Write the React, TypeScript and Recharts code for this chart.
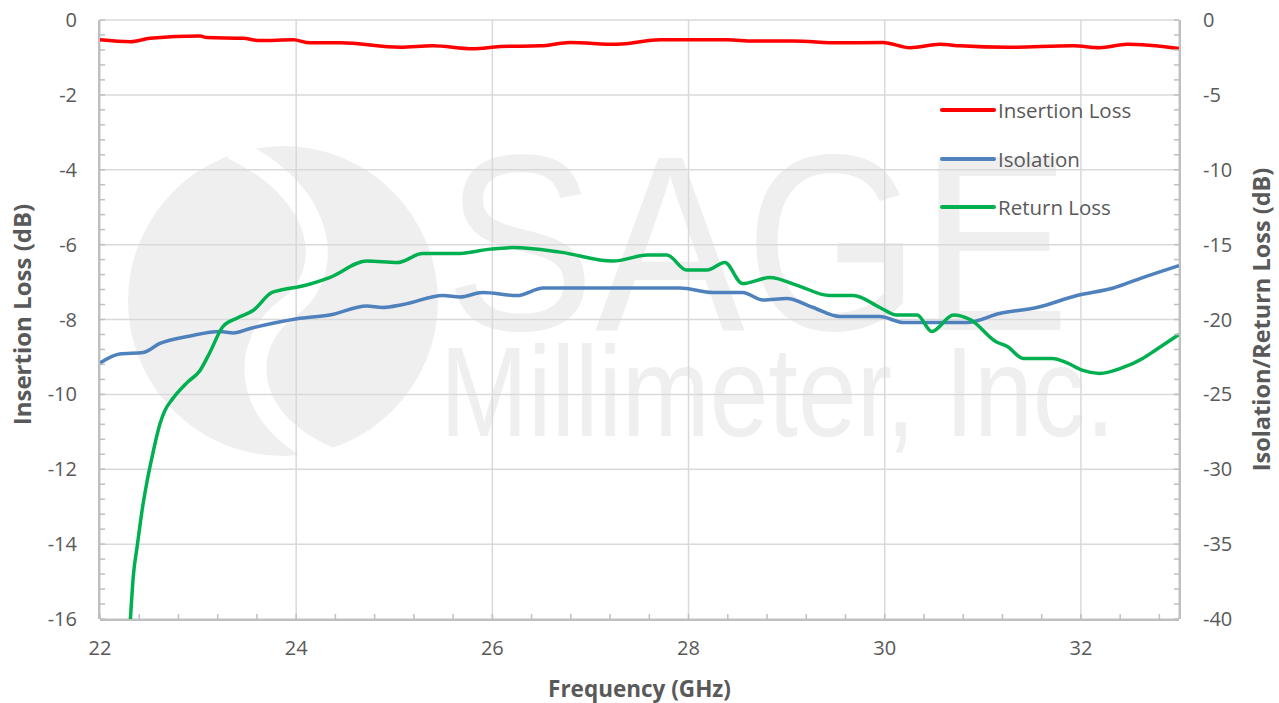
import { LineChart, Line, XAxis, YAxis, CartesianGrid, Legend } from 'recharts'

const FONT = '"Open Sans", sans-serif'
const TEXT = '#595959'
const GRID = '#d9d9d9'
const AXIS = '#bfbfbf'

// x axis labels and y axis ticks
const freqTicks = [22, 24, 26, 28, 30, 32]
const leftTicks = [-16, -14, -12, -10, -8, -6, -4, -2, 0]
const rightTicks = [-40, -35, -30, -25, -20, -15, -10, -5, 0]

// minor tick marks (inside the plot)
const minorX = Array.from({ length: 28 }, (_, i) => +(22 + i * 0.4).toFixed(1))
const minorLeft = Array.from({ length: 41 }, (_, i) => +(-16 + i * 0.4).toFixed(1))
const minorRight = Array.from({ length: 41 }, (_, i) => -40 + i)

// Insertion Loss (left axis, dB)
const ilFreq = [22.0, 22.31, 22.51, 23.02, 23.09, 23.46, 23.63, 23.97, 24.14, 24.45, 25.06, 25.39, 25.8, 26.08, 26.49, 26.79, 27.27, 27.71, 27.98, 28.39, 28.66, 29.06, 29.54, 29.98, 30.26, 30.56, 30.77, 31.25, 31.92, 32.19, 32.47, 33.0]
const ilVal = [-0.53, -0.58, -0.49, -0.43, -0.47, -0.49, -0.55, -0.53, -0.61, -0.61, -0.73, -0.69, -0.77, -0.71, -0.69, -0.6, -0.65, -0.53, -0.53, -0.53, -0.56, -0.56, -0.61, -0.6, -0.74, -0.65, -0.69, -0.73, -0.69, -0.74, -0.65, -0.76]

// Isolation (right axis, dB)
const isoFreq = [22.0, 22.2, 22.44, 22.61, 22.92, 23.22, 23.36, 23.53, 23.8, 24.01, 24.34, 24.72, 24.88, 25.09, 25.5, 25.67, 25.9, 26.25, 26.52, 27.2, 27.91, 28.25, 28.55, 28.76, 29.0, 29.27, 29.54, 29.95, 30.19, 30.84, 31.17, 31.55, 31.96, 32.33, 32.63, 33.0]
const isoVal = [-22.9, -22.3, -22.2, -21.6, -21.1, -20.8, -20.9, -20.6, -20.2, -19.95, -19.7, -19.1, -19.2, -19.0, -18.4, -18.5, -18.2, -18.4, -17.9, -17.9, -17.9, -18.2, -18.2, -18.7, -18.6, -19.2, -19.8, -19.8, -20.2, -20.2, -19.6, -19.2, -18.4, -17.9, -17.2, -16.4]

// Return Loss (right axis, dB)
const rlFreq = [22.31, 22.34, 22.38, 22.43, 22.48, 22.54, 22.61, 22.66, 22.74, 22.89, 23.02, 23.12, 23.25, 23.4, 23.56, 23.75, 23.87, 24.04, 24.34, 24.72, 25.03, 25.29, 25.64, 25.98, 26.21, 26.69, 27.23, 27.58, 27.78, 27.98, 28.19, 28.37, 28.55, 28.83, 29.1, 29.44, 29.68, 29.95, 30.12, 30.33, 30.48, 30.7, 30.87, 31.14, 31.25, 31.41, 31.71, 31.86, 32.02, 32.19, 32.43, 32.63, 32.77, 33.0]
const rlVal = [-40.0, -37.1, -35.1, -32.7, -30.8, -28.9, -27.0, -26.1, -25.3, -24.2, -23.4, -22.2, -20.5, -19.9, -19.4, -18.2, -18.0, -17.8, -17.2, -16.1, -16.2, -15.6, -15.6, -15.3, -15.2, -15.5, -16.1, -15.7, -15.7, -16.7, -16.7, -16.2, -17.6, -17.2, -17.7, -18.4, -18.4, -19.2, -19.7, -19.7, -20.8, -19.7, -20.0, -21.5, -21.8, -22.6, -22.6, -22.9, -23.4, -23.6, -23.2, -22.6, -22.0, -21.0]

const toRows = (xs: number[], ys: number[]) => xs.map((f, i) => ({ f, v: ys[i] }))

const tickStyle = { fill: TEXT, fontSize: 20, fontFamily: FONT }
const titleStyle = { fill: TEXT, fontFamily: FONT, fontWeight: 700 }
const minorLine = { stroke: AXIS, strokeWidth: 1.5 }

function LegendBox({ payload }: any) {
  return (
    <div style={{ fontFamily: FONT, fontSize: 20.5, color: TEXT }}>
      {(payload || []).map((e: any) => (
        <div key={e.value} style={{ display: 'flex', alignItems: 'center', height: 48.5 }}>
          <svg width={58} height={8}>
            <line x1={3} x2={55} y1={4} y2={4} stroke={e.color} strokeWidth={4} strokeLinecap="round" />
          </svg>
          <span style={{ marginLeft: 1 }}>{e.value}</span>
        </div>
      ))}
    </div>
  )
}

function Watermark() {
  const c = '#efefef'
  return (
    <svg width={1279} height={703} style={{ position: 'absolute', left: 0, top: 0 }}>
      <circle cx={283} cy={301} r={155} fill={c} />
      <path d="M 232 148 C 330 195, 335 275, 288 308 C 240 342, 238 420, 330 458" fill="none" stroke="#fff" strokeWidth={22} />
      <text x={445} y={330} fill={c} fontSize={250} fontFamily="Liberation Sans, sans-serif" textLength={625} lengthAdjust="spacingAndGlyphs">SAGE</text>
      <text x={440} y={436} fill={c} fontSize={128} fontFamily="Liberation Sans, sans-serif" textLength={675} lengthAdjust="spacingAndGlyphs">Millimeter, Inc.</text>
    </svg>
  )
}

export default function App() {
  const empty = () => <g />
  return (
    <div style={{ position: 'absolute', left: 0, top: 0, width: 1279, height: 703, background: '#fff' }}>
      <Watermark />
      <div style={{ position: 'absolute', left: 0, top: 0 }}>
        <LineChart width={1279} height={703} margin={{ top: 20, right: 0, bottom: 0, left: 0 }}>
          <CartesianGrid xAxisId="x" yAxisId="left" stroke={GRID} strokeWidth={1.5} />
          <XAxis xAxisId="x" type="number" dataKey="f" domain={[22, 33]} ticks={freqTicks} interval={0} height={83}
            axisLine={{ stroke: AXIS, strokeWidth: 2 }} tickLine={false} tickSize={0} tickMargin={21} tick={tickStyle}
            label={{
              content: ({ viewBox }: any) => (
                <text x={viewBox.x + viewBox.width / 2} y={viewBox.y + 68} textAnchor="middle" dominantBaseline="central" fontSize={22.5} {...titleStyle}>
                  Frequency (GHz)
                </text>
              ),
            }} />
          <XAxis xAxisId="aXMinor" type="number" dataKey="f" domain={[22, 33]} allowDataOverflow ticks={minorX} interval={0} height={1}
            axisLine={false} tick={empty} tickSize={-5} tickLine={minorLine} />
          <YAxis yAxisId="left" orientation="left" type="number" domain={[-16, 0]} ticks={leftTicks} interval={0} width={99}
            axisLine={{ stroke: AXIS, strokeWidth: 2 }} tickLine={false} tickSize={0} tickMargin={22} tick={tickStyle}
            label={{
              content: ({ viewBox }: any) => {
                const x = viewBox.x + 21
                const y = viewBox.y + viewBox.height / 2 - 5
                return (
                  <text x={x} y={y} transform={`rotate(-90, ${x}, ${y})`} textAnchor="middle" dominantBaseline="central" fontSize={24} {...titleStyle}>
                    Insertion Loss (dB)
                  </text>
                )
              },
            }} />
          <YAxis yAxisId="aLeftMinor" orientation="left" type="number" domain={[-16, 0]} allowDataOverflow ticks={minorLeft} interval={0} width={1}
            axisLine={false} tick={empty} tickSize={-5} tickLine={minorLine} />
          <YAxis yAxisId="right" orientation="right" type="number" domain={[-40, 0]} ticks={rightTicks} interval={0} width={99}
            allowDataOverflow axisLine={{ stroke: AXIS, strokeWidth: 2 }} tickLine={false} tickSize={0} tickMargin={23} tick={tickStyle}
            label={{
              content: ({ viewBox }: any) => {
                const x = viewBox.x + 81
                const y = viewBox.y + viewBox.height / 2
                return (
                  <text x={x} y={y} transform={`rotate(-90, ${x}, ${y})`} textAnchor="middle" dominantBaseline="central" fontSize={23.5} {...titleStyle}>
                    Isolation/Return Loss (dB)
                  </text>
                )
              },
            }} />
          <YAxis yAxisId="aRightMinor" orientation="right" type="number" domain={[-40, 0]} allowDataOverflow ticks={minorRight} interval={0} width={1}
            axisLine={false} tick={empty} tickSize={-5} tickLine={minorLine} />
          <Legend layout="vertical" align="center" verticalAlign="middle" content={<LegendBox />}
            wrapperStyle={{ left: 939, top: 86, width: 'auto', height: 'auto' }} />
          <Line name="Insertion Loss" data={toRows(ilFreq, ilVal)} dataKey="v" xAxisId="x" yAxisId="left" type="monotone"
            stroke="#ff0000" strokeWidth={3.5} dot={false} activeDot={false} isAnimationActive={false} />
          <Line name="Isolation" data={toRows(isoFreq, isoVal)} dataKey="v" xAxisId="x" yAxisId="right" type="monotone"
            stroke="#4f81bd" strokeWidth={3.5} dot={false} activeDot={false} isAnimationActive={false} />
          <Line name="Return Loss" data={toRows(rlFreq, rlVal)} dataKey="v" xAxisId="x" yAxisId="right" type="monotone"
            stroke="#00b050" strokeWidth={3.5} dot={false} activeDot={false} isAnimationActive={false} />
        </LineChart>
      </div>
    </div>
  )
}
